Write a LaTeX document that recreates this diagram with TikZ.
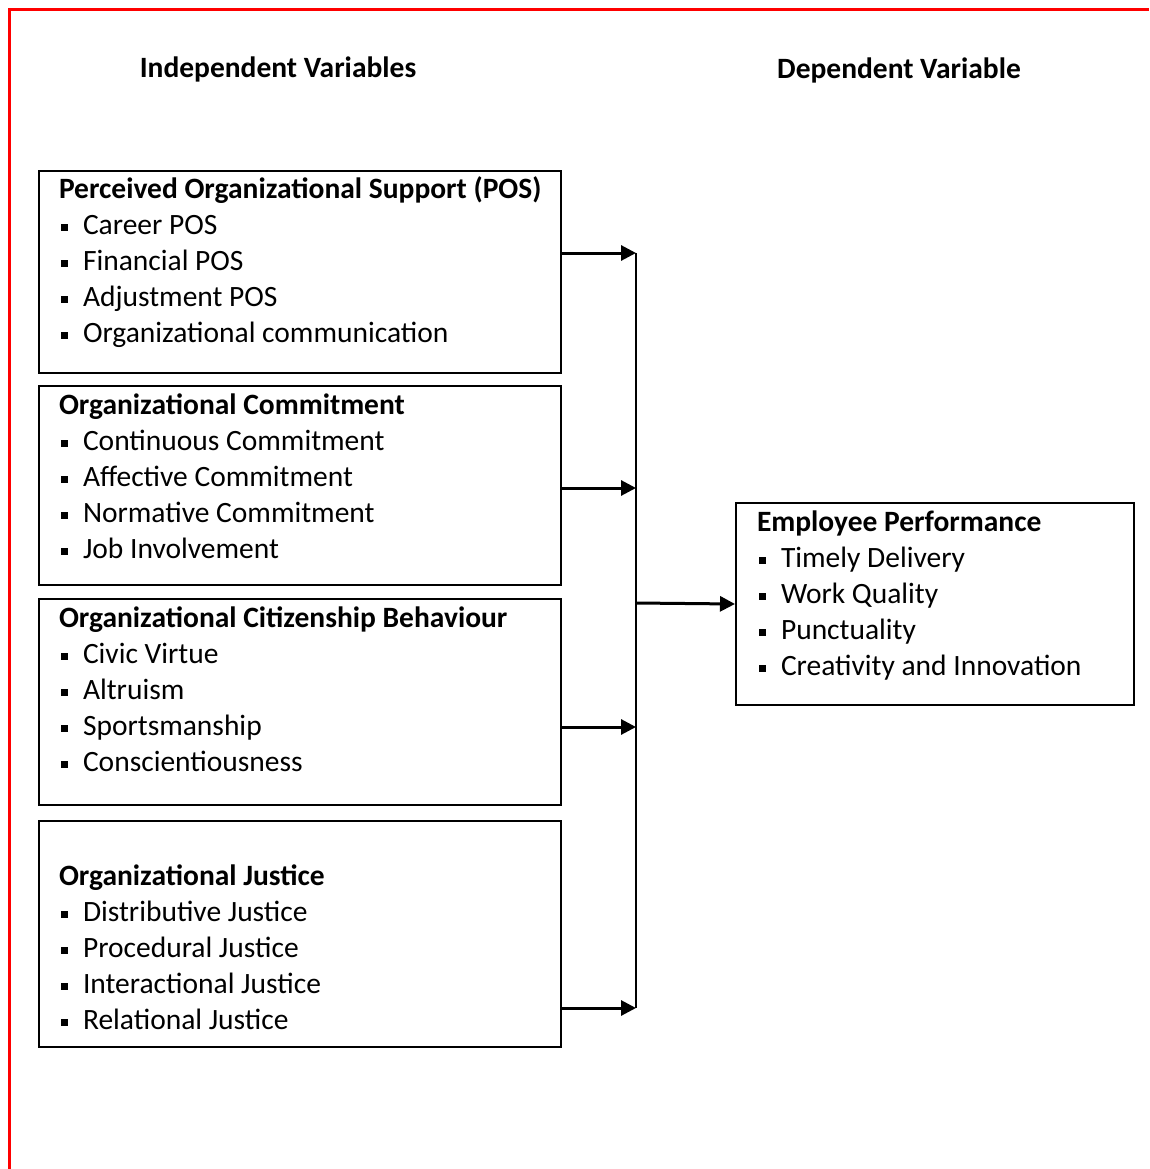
\documentclass[tikz,border=0pt]{standalone}
\usepackage{fontspec}
\setmainfont{Carlito}
\usetikzlibrary{arrows.meta, positioning}

% square bullet of the item lists
\newcommand{\sqbullet}{\hspace*{2pt}\makebox[22pt][l]{\rule[0.1em]{0.24em}{0.24em}}}

\begin{document}
\begin{tikzpicture}[x=1pt, y=-1pt, line width=2pt,
    >={Triangle[length=15pt, width=15pt]},
    varbox/.style={draw, line width=2pt, anchor=north west, inner sep=0pt},
    varlist/.style={anchor=north west, align=left, inner sep=0pt,
                    font=\fontsize{29.5}{36}\selectfont},
    heading/.style={font=\fontsize{29.5}{34}\selectfont\bfseries},
    link/.style={->, line width=3pt}]
  \useasboundingbox (0,0) rectangle (1149,1169);

  % Red page frame
  \draw[red, line width=3pt] (9.5,1169) -- (9.5,10) -- (1149,10);

  % Column headings
  \node[heading] (indep) at (278,69) {Independent Variables};
  \node[heading] (dep) at (899,70) {Dependent Variable};

  % Independent variable boxes
  \node[varbox, minimum width=522pt, minimum height=202pt] (pos) at (38,170) {};
  \node[varbox, minimum width=522pt, minimum height=199pt] (oc) at (38,385) {};
  \node[varbox, minimum width=522pt, minimum height=206pt] (ocb) at (38,598) {};
  \node[varbox, minimum width=522pt, minimum height=226pt] (oj) at (38,820) {};

  % Dependent variable box
  \node[varbox, minimum width=398pt, minimum height=202pt] (ep) at (735,502) {};

  % Box contents
  \node[varlist] (posT) at ([xshift=20pt, yshift=-2pt]pos.north west)
    {\strut\textbf{Perceived Organizational Support (POS)}\\
     \sqbullet Career POS\\
     \sqbullet Financial POS\\
     \sqbullet Adjustment POS\\
     \sqbullet Organizational communication};
  \node[varlist] (ocT) at ([xshift=20pt, yshift=-3pt]oc.north west)
    {\strut\textbf{Organizational Commitment}\\
     \sqbullet Continuous Commitment\\
     \sqbullet Affective Commitment\\
     \sqbullet Normative Commitment\\
     \sqbullet Job Involvement};
  \node[varlist] (ocbT) at ([xshift=20pt, yshift=-3pt]ocb.north west)
    {\strut\textbf{Organizational Citizenship Behaviour}\\
     \sqbullet Civic Virtue\\
     \sqbullet Altruism\\
     \sqbullet Sportsmanship\\
     \sqbullet Conscientiousness};
  \node[varlist] (ojT) at ([xshift=20pt, yshift=-3pt]oj.north west)
    {\strut\\
     \textbf{Organizational Justice}\\
     \sqbullet Distributive Justice\\
     \sqbullet Procedural Justice\\
     \sqbullet Interactional Justice\\
     \sqbullet Relational Justice};
  \node[varlist] (epT) at ([xshift=21pt, yshift=-3pt]ep.north west)
    {\strut\textbf{Employee Performance}\\
     \sqbullet Timely Delivery\\
     \sqbullet Work Quality\\
     \sqbullet Punctuality\\
     \sqbullet Creativity and Innovation};

  % Collecting line
  \coordinate (b1) at (636,253);
  \coordinate (b2) at (636,488);
  \coordinate (b3) at (636,727);
  \coordinate (b4) at (636,1008);
  \coordinate (bm) at (636,603);
  \draw (b1) -- (b4);

  % Arrows
  \draw[link] (pos.east |- b1) -- (b1);
  \draw[link] (oc.east |- b2) -- (b2);
  \draw[link] (ocb.east |- b3) -- (b3);
  \draw[link] (oj.east |- b4) -- (b4);
  \draw[link] (bm) -- (ep.west);
\end{tikzpicture}
\end{document}
